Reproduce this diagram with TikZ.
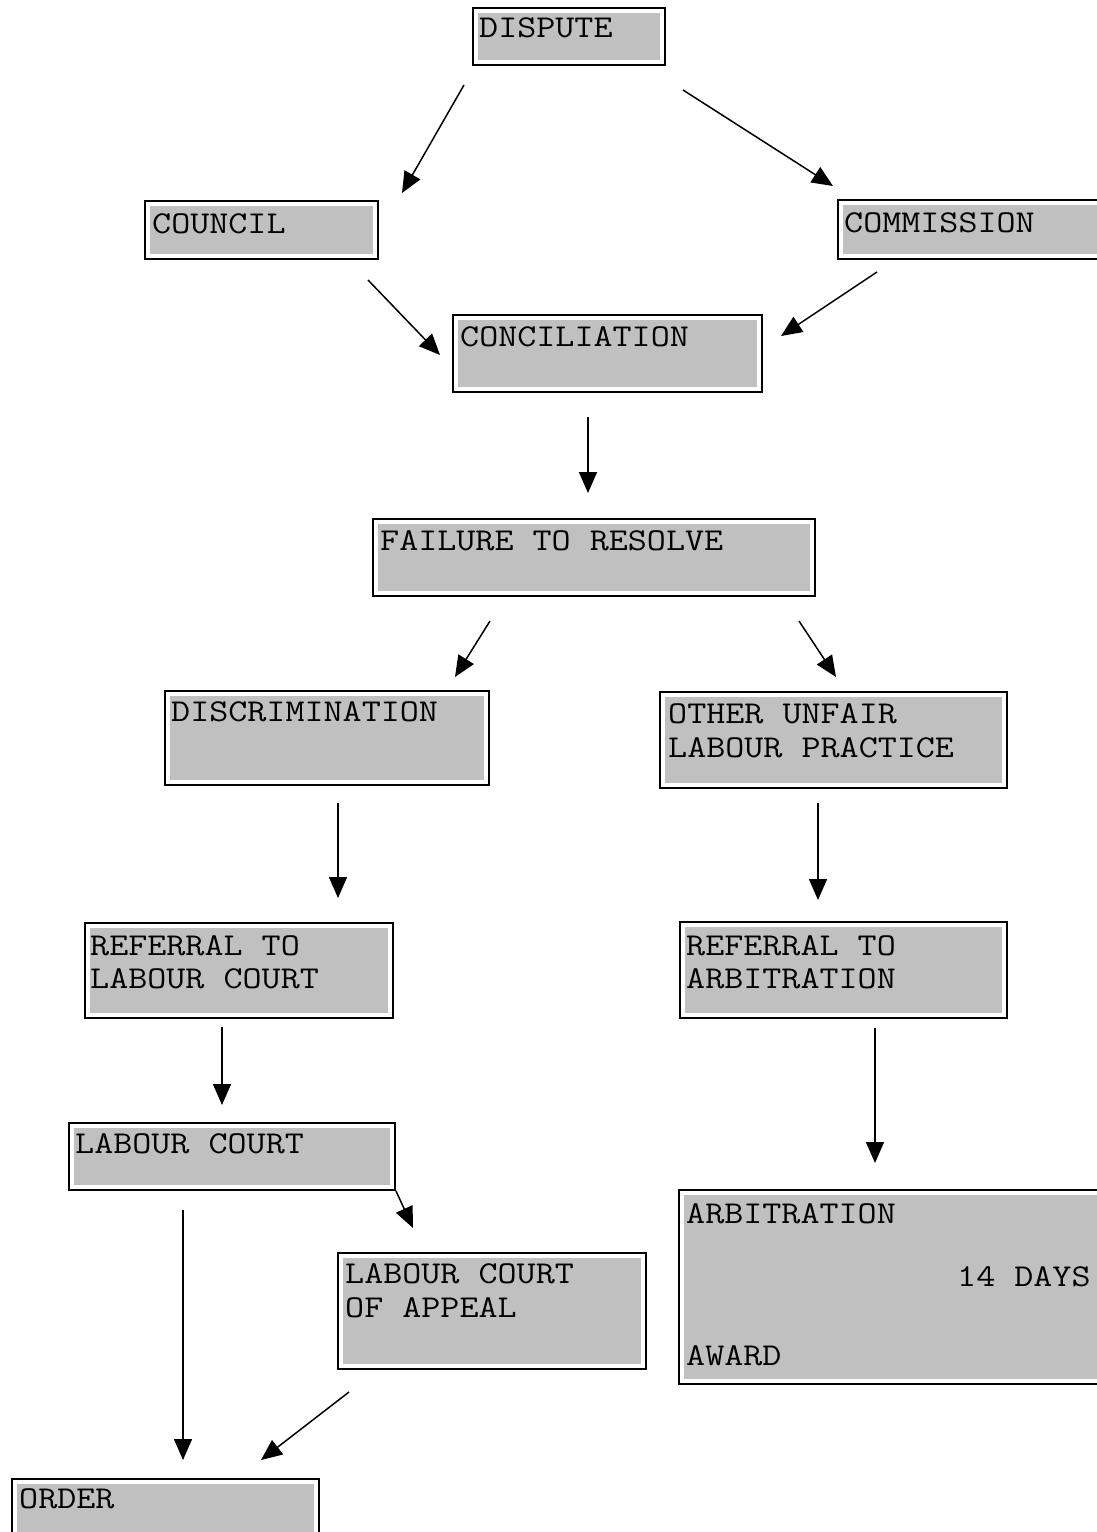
\documentclass[tikz,border=0pt]{standalone}
\usepackage{graphicx}
\usetikzlibrary{arrows.meta}
\definecolor{boxgray}{HTML}{C0C0C0}
\newcommand\mytxt[1]{\scalebox{1}[0.86]{#1}}
\begin{document}
\begin{tikzpicture}[x=1pt,y=-1pt,
  box/.style={draw=black, line width=2pt, fill=white, inner sep=0pt, anchor=north west,
    path picture={\fill[boxgray] ([shift={(5pt,-5pt)}]path picture bounding box.north west) rectangle ([shift={(-5pt,5pt)}]path picture bounding box.south east);}},
  lbl/.style={inner sep=0pt, anchor=base west, font=\fontsize{37}{37}\selectfont\ttfamily},
  conn/.style={line width=1.5pt, -{Triangle[length=21pt,width=18pt]}}]
\useasboundingbox (0,0) rectangle (1096,1532);
\fill[white] (0,0) rectangle (1096,1532);
% boxes
\node[box, minimum width=192pt, minimum height=57pt] (dispute) at (472,7) {};
\node[box, minimum width=233pt, minimum height=58pt] (council) at (144,200) {};
\node[box, minimum width=300pt, minimum height=59pt] (commission) at (837,199) {};
\node[box, minimum width=309pt, minimum height=77pt] (concil) at (452,314) {};
\node[box, minimum width=442pt, minimum height=77pt] (failure) at (372,518) {};
\node[box, minimum width=324pt, minimum height=94pt] (discrim) at (164,690) {};
\node[box, minimum width=347pt, minimum height=96pt] (other) at (659,691) {};
\node[box, minimum width=308pt, minimum height=95pt] (reflc) at (84,922) {};
\node[box, minimum width=327pt, minimum height=96pt] (refarb) at (679,921) {};
\node[box, minimum width=326pt, minimum height=67pt] (lc) at (68,1122) {};
\node[box, minimum width=308pt, minimum height=116pt] (lca) at (337,1252) {};
\node[box, minimum width=500pt, minimum height=194pt] (arb) at (678,1189) {};
\node[box, minimum width=307pt, minimum height=100pt] (order) at (11,1478) {};
% texts
\node[lbl] (tdispute) at (479,37) {\mytxt{DISPUTE}};
\node[lbl] (tcouncil) at (152,233) {\mytxt{COUNCIL}};
\node[lbl] (tcommission) at (844,232) {\mytxt{COMMISSION}};
\node[lbl] (tconcil) at (460,346) {\mytxt{CONCILIATION}};
\node[lbl] (tfailure) at (380,550) {\mytxt{FAILURE TO RESOLVE}};
\node[lbl] (tdiscrim) at (171,721) {\mytxt{DISCRIMINATION}};
\node[lbl] (tother1) at (668,723) {\mytxt{OTHER UNFAIR}};
\node[lbl] (tother2) at (668,757) {\mytxt{LABOUR PRACTICE}};
\node[lbl] (treflc1) at (90,955) {\mytxt{REFERRAL TO}};
\node[lbl] (treflc2) at (90,988) {\mytxt{LABOUR COURT}};
\node[lbl] (trefarb1) at (686,955) {\mytxt{REFERRAL TO}};
\node[lbl] (trefarb2) at (686,988) {\mytxt{ARBITRATION}};
\node[lbl] (tlc) at (75,1153) {\mytxt{LABOUR COURT}};
\node[lbl] (tlca1) at (345,1283) {\mytxt{LABOUR COURT}};
\node[lbl] (tlca2) at (345,1317) {\mytxt{OF APPEAL}};
\node[lbl] (tarb1) at (686,1223) {\mytxt{ARBITRATION}};
\node[lbl] (tarb2) at (957,1286) {\mytxt{14 DAYS}};
\node[lbl] (tarb3) at (686,1365) {\mytxt{AWARD}};
\node[lbl] (torder) at (19,1508) {\mytxt{ORDER}};
% connector end points
\coordinate (a1s) at (464,85);   \coordinate (a1e) at (402,193);
\coordinate (a2s) at (683,90);   \coordinate (a2e) at (833,186);
\coordinate (a3s) at (368,280);  \coordinate (a3e) at (440,355);
\coordinate (a4s) at (877,272);  \coordinate (a4e) at (781,336);
\coordinate (a5s) at (588,417);  \coordinate (a5e) at (588,493);
\coordinate (a6s) at (490,621);  \coordinate (a6e) at (455,677);
\coordinate (a7s) at (799,621);  \coordinate (a7e) at (836,677);
\coordinate (a8s) at (338,803);  \coordinate (a8e) at (338,898);
\coordinate (a9s) at (818,803);  \coordinate (a9e) at (818,900);
\coordinate (a10s) at (222,1027); \coordinate (a10e) at (222,1105);
\coordinate (a11s) at (875,1028); \coordinate (a11e) at (875,1163);
\coordinate (a12e) at (413,1228);
\coordinate (a13s) at (183,1210); \coordinate (a13e) at (183,1460);
\coordinate (a14s) at (349,1392); \coordinate (a14e) at (261,1460);
% connectors
\draw[conn] (a1s) -- (a1e);
\draw[conn] (a2s) -- (a2e);
\draw[conn] (a3s) -- (a3e);
\draw[conn] (a4s) -- (a4e);
\draw[conn] (a5s) -- (a5e);
\draw[conn] (a6s) -- (a6e);
\draw[conn] (a7s) -- (a7e);
\draw[conn] (a8s) -- (a8e);
\draw[conn] (a9s) -- (a9e);
\draw[conn] (a10s) -- (a10e);
\draw[conn] (a11s) -- (a11e);
\draw[conn] (lc.south east) -- (a12e);
\draw[conn] (a13s) -- (a13e);
\draw[conn] (a14s) -- (a14e);
\end{tikzpicture}
\end{document}
